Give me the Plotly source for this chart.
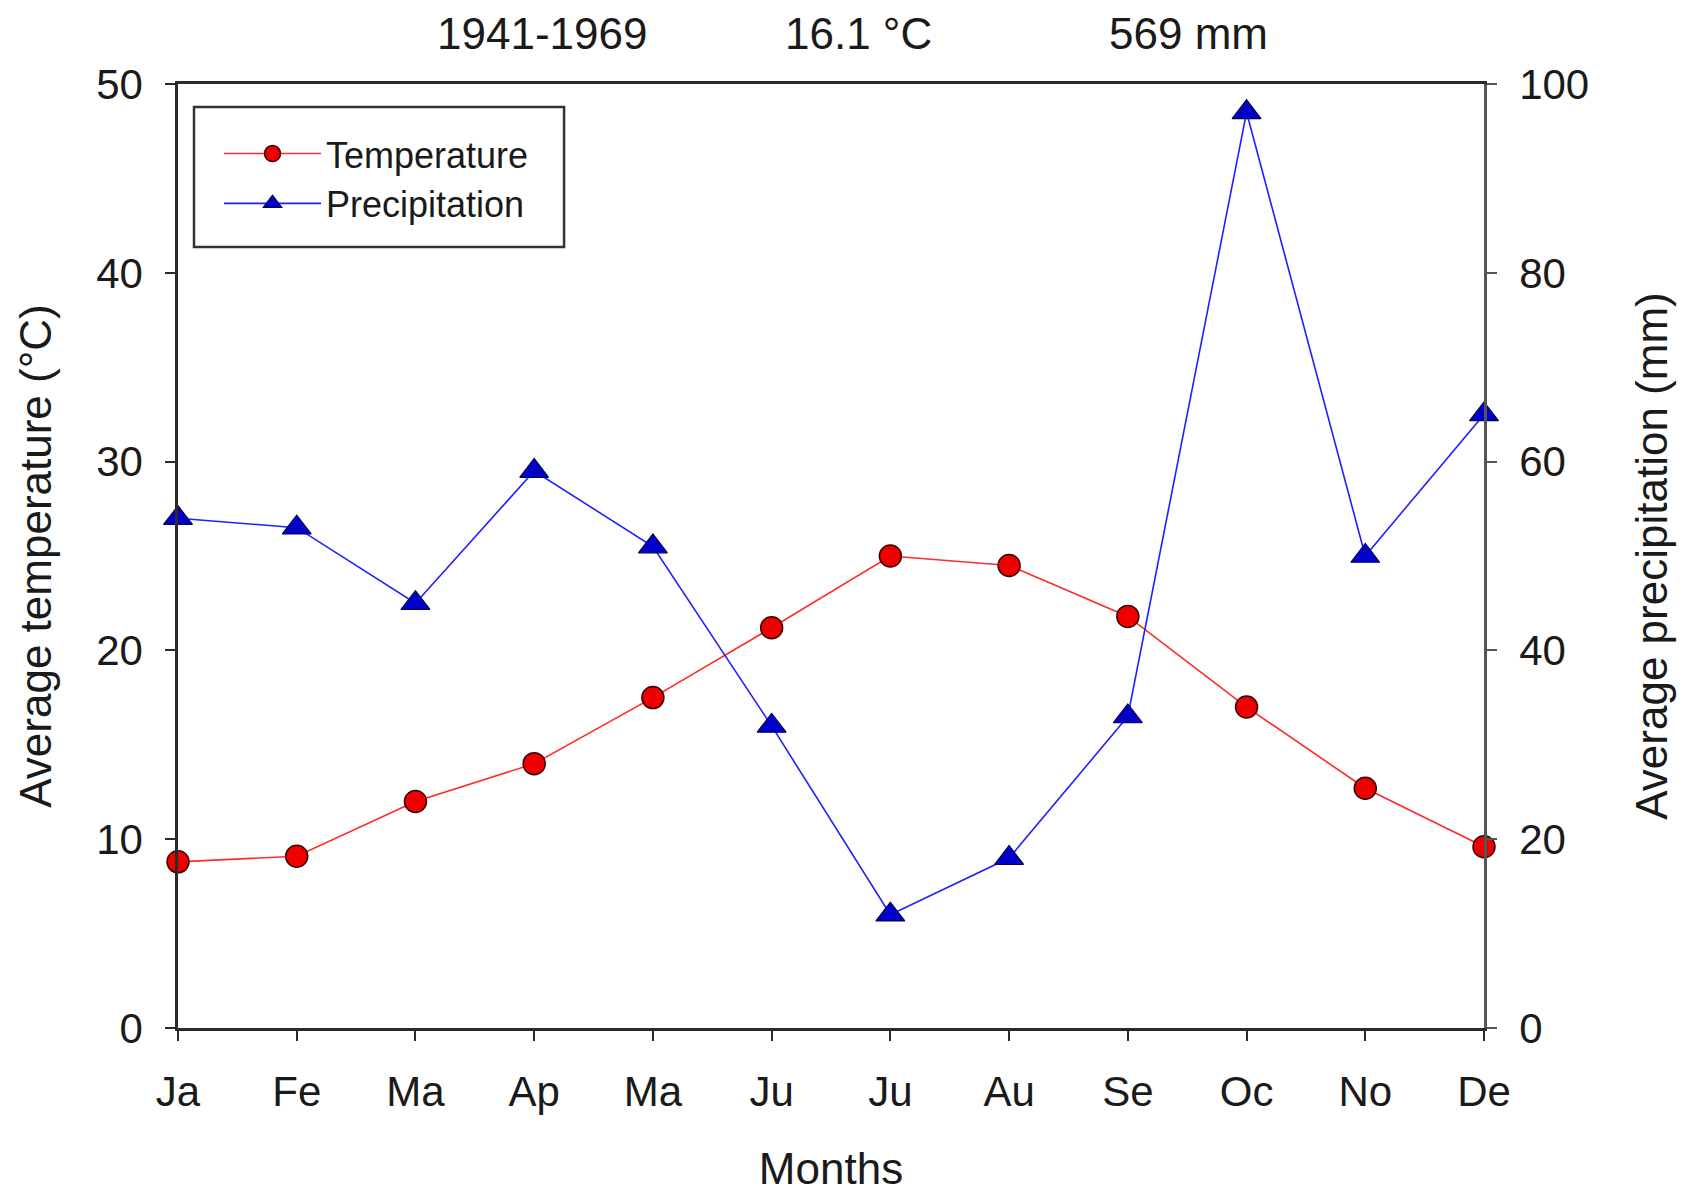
import plotly.graph_objects as go

months = ["Ja", "Fe", "Ma", "Ap", "Ma", "Ju", "Ju", "Au", "Se", "Oc", "No", "De"]
month_pos = list(range(len(months)))
temperature = [8.8, 9.1, 12.0, 14.0, 17.5, 21.2, 25.0, 24.5, 21.8, 17.0, 12.7, 9.6]
precipitation = [54, 53, 45, 59, 51, 32, 12, 18, 33, 97, 50, 65]
header_texts = ["1941-1969", "16.1 °C", "569 mm"]
temp_ticks = [0, 10, 20, 30, 40, 50]
precip_ticks = [0, 20, 40, 60, 80, 100]

FONT = "Liberation Sans, Arial, sans-serif"
TXT = "#1a1a1a"
AX = "#2a2a2a"

fig = go.Figure()
fig.add_trace(go.Scatter(
    x=month_pos, y=temperature, name="Temperature", mode="lines+markers",
    line=dict(color="#ff2a2a", width=1.6),
    marker=dict(symbol="circle", size=22, color="#ee0000",
                line=dict(color="#3a0000", width=1.5)),
    cliponaxis=False, yaxis="y",
))
fig.add_trace(go.Scatter(
    x=month_pos, y=precipitation, name="Precipitation", mode="lines+markers",
    line=dict(color="#1f1fff", width=1.6),
    marker=dict(symbol="triangle-up", size=25, color="#0000c8",
                line=dict(color="#00005a", width=1.2)),
    cliponaxis=False, yaxis="y2",
))

header_x = [0.2787, 0.5214, 0.7734]
for tx, hx in zip(header_texts, header_x):
    fig.add_annotation(text=tx, x=hx, y=1.053, xref="paper", yref="paper",
                       xanchor="center", yanchor="middle", showarrow=False,
                       font=dict(family=FONT, size=44, color=TXT))

# legend frame
fig.add_shape(type="rect", xref="paper", yref="paper",
              x0=0.01225, x1=0.2956, y0=0.8273, y1=0.9756,
              line=dict(color="#333333", width=2.5), fillcolor="rgba(0,0,0,0)",
              layer="above")

fig.update_layout(
    width=1684, height=1193,
    margin=dict(l=178, r=200, t=84, b=165),
    paper_bgcolor="white", plot_bgcolor="white",
    font=dict(family=FONT, color=TXT),
    showlegend=True,
    legend=dict(x=0.0314, y=0.958, xanchor="left", yanchor="top",
                bgcolor="rgba(0,0,0,0)", borderwidth=0,
                font=dict(family=FONT, size=36, color=TXT),
                itemwidth=97, tracegroupgap=0),
    xaxis=dict(range=[0, 11], tickmode="array", tickvals=month_pos, ticktext=months,
               ticks="outside", ticklen=10, tickwidth=2, tickcolor=AX,
               showline=True, linecolor=AX, linewidth=2.5, mirror=True,
               showgrid=False, zeroline=False, ticklabelstandoff=15, automargin=False,
               tickfont=dict(family=FONT, size=42, color=TXT),
               title=dict(text="Months", font=dict(family=FONT, size=44, color=TXT),
                          standoff=43)),
    yaxis=dict(range=[0, 50], tickmode="array", tickvals=temp_ticks,
               ticks="outside", ticklen=10, tickwidth=2, tickcolor=AX,
               showline=True, linecolor=AX, linewidth=2.5,
               showgrid=False, zeroline=False, ticklabelstandoff=14, automargin=False,
               tickfont=dict(family=FONT, size=42, color=TXT),
               title=dict(text="Average temperature (°C)",
                          font=dict(family=FONT, size=44, color=TXT), standoff=31)),
    yaxis2=dict(range=[0, 100], tickmode="array", tickvals=precip_ticks,
                overlaying="y", side="right",
                ticks="outside", ticklen=10, tickwidth=2, tickcolor="#555555",
                showline=True, linecolor="#555555", linewidth=2.5,
                showgrid=False, zeroline=False, ticklabelstandoff=14, automargin=False,
                tickfont=dict(family=FONT, size=42, color=TXT),
                title=dict(text="Average precipitation (mm)",
                           font=dict(family=FONT, size=44, color=TXT), standoff=48)),
)

fig.write_html("out.html")
